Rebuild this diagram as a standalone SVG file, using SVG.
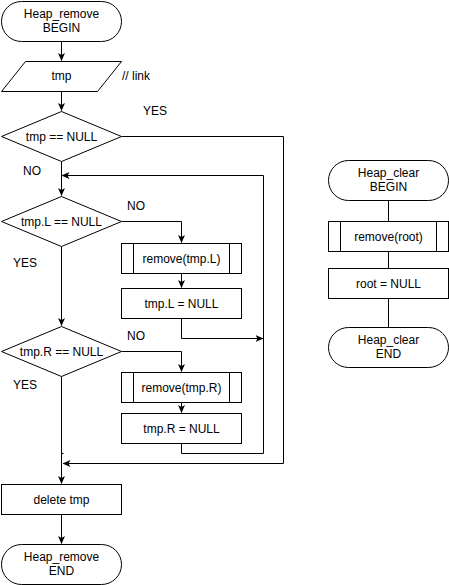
<svg xmlns="http://www.w3.org/2000/svg" width="449" height="585" viewBox="0 0 449 585">
<style>
.s{fill:#fff;stroke:#000;stroke-width:1}
.l{fill:none;stroke:#000;stroke-width:1}
text{font-family:"Liberation Sans",Arial,sans-serif;font-size:12px;fill:#000}
.c{text-anchor:middle}
</style>
<defs>
<marker id="a" viewBox="0 0 8 8" refX="7.5" refY="4" markerWidth="8" markerHeight="8" markerUnits="userSpaceOnUse" orient="auto">
<path d="M0,0.5 L8,4 L0,7.5 L2,4 Z" fill="#000"/>
</marker>
</defs>
<rect width="449" height="585" fill="#fff"/>
<g id="connectors">
<path class="l" d="M61.5,41.5 V60.5" marker-end="url(#a)"/>
<path class="l" d="M61.5,91.5 V110.5" marker-end="url(#a)"/>
<path class="l" d="M61.5,161.5 V195.5" marker-end="url(#a)"/>
<path class="l" d="M121.5,136.5 H283.5 V463.5 H63" marker-end="url(#a)"/>
<path class="l" d="M61.5,246.5 V325.5" marker-end="url(#a)"/>
<path class="l" d="M121.5,221.5 H181.5 V242.5" marker-end="url(#a)"/>
<path class="l" d="M181.5,273.5 V287.5" marker-end="url(#a)"/>
<path class="l" d="M181.5,318.5 V338.5 H263" marker-end="url(#a)"/>
<path class="l" d="M121.5,351.5 H181.5 V371.5" marker-end="url(#a)"/>
<path class="l" d="M181.5,402.5 V412.5" marker-end="url(#a)"/>
<path class="l" d="M181.5,443.5 V453.5 H263.5 V175.5 H62" marker-end="url(#a)"/>
<path class="l" d="M61.5,376.5 V483.5" marker-end="url(#a)"/>
<path class="l" d="M61.5,453.5 H63.5"/>
<path class="l" d="M61.5,514.5 V543.5" marker-end="url(#a)"/>
<path class="l" d="M388.5,200.5 V221.5"/>
<path class="l" d="M388.5,251.5 V268.5"/>
<path class="l" d="M388.5,298.5 V327.5"/>
</g>
<g id="labels">
<text x="143" y="115">YES</text>
<text x="23" y="175">NO</text>
<text x="127" y="210">NO</text>
<text x="13" y="267">YES</text>
<text x="127" y="340">NO</text>
<text x="13" y="389">YES</text>
<text x="122" y="80">// link</text>
</g>
<g id="heap_remove_begin">
<rect class="s" x="1.5" y="1.5" width="120" height="40" rx="20" ry="20"/>
<text class="c" x="61.5" y="18">Heap_remove</text>
<text class="c" x="61.5" y="32">BEGIN</text>
</g>
<g id="tmp_input">
<polygon class="s" points="25.5,61.5 121.5,61.5 97.5,91.5 1.5,91.5"/>
<text class="c" x="61.5" y="80">tmp</text>
</g>
<g id="cond_tmp">
<polygon class="s" points="61.5,111.5 121.5,136.5 61.5,161.5 1.5,136.5"/>
<text class="c" x="61.5" y="140.5">tmp == NULL</text>
</g>
<g id="cond_left">
<polygon class="s" points="61.5,196.5 121.5,221.5 61.5,246.5 1.5,221.5"/>
<text class="c" x="61.5" y="225.5">tmp.L == NULL</text>
</g>
<g id="remove_left">
<rect class="s" x="121.5" y="243.5" width="120" height="30"/>
<path class="l" d="M133.5,243.5 V273.5 M229.5,243.5 V273.5"/>
<text class="c" x="181.5" y="263">remove(tmp.L)</text>
</g>
<g id="set_left_null">
<rect class="s" x="121.5" y="288.5" width="120" height="30"/>
<text class="c" x="181.5" y="308">tmp.L = NULL</text>
</g>
<g id="cond_right">
<polygon class="s" points="61.5,326.5 121.5,351.5 61.5,376.5 1.5,351.5"/>
<text class="c" x="61.5" y="355.5">tmp.R == NULL</text>
</g>
<g id="remove_right">
<rect class="s" x="121.5" y="372.5" width="120" height="30"/>
<path class="l" d="M133.5,372.5 V402.5 M229.5,372.5 V402.5"/>
<text class="c" x="181.5" y="392">remove(tmp.R)</text>
</g>
<g id="set_right_null">
<rect class="s" x="121.5" y="413.5" width="120" height="30"/>
<text class="c" x="181.5" y="433">tmp.R = NULL</text>
</g>
<g id="delete_tmp">
<rect class="s" x="1.5" y="484.5" width="120" height="30"/>
<text class="c" x="61.5" y="504">delete tmp</text>
</g>
<g id="heap_remove_end">
<rect class="s" x="1.5" y="544.5" width="120" height="40" rx="20" ry="20"/>
<text class="c" x="61.5" y="561">Heap_remove</text>
<text class="c" x="61.5" y="575">END</text>
</g>
<g id="heap_clear_begin">
<rect class="s" x="328.5" y="160.5" width="120" height="40" rx="20" ry="20"/>
<text class="c" x="388.5" y="177">Heap_clear</text>
<text class="c" x="388.5" y="191">BEGIN</text>
</g>
<g id="remove_root">
<rect class="s" x="328.5" y="221.5" width="120" height="30"/>
<path class="l" d="M340.5,221.5 V251.5 M436.5,221.5 V251.5"/>
<text class="c" x="388.5" y="241">remove(root)</text>
</g>
<g id="root_null">
<rect class="s" x="328.5" y="268.5" width="120" height="30"/>
<text class="c" x="388.5" y="288">root = NULL</text>
</g>
<g id="heap_clear_end">
<rect class="s" x="328.5" y="327.5" width="120" height="40" rx="20" ry="20"/>
<text class="c" x="388.5" y="344">Heap_clear</text>
<text class="c" x="388.5" y="358">END</text>
</g>
</svg>
